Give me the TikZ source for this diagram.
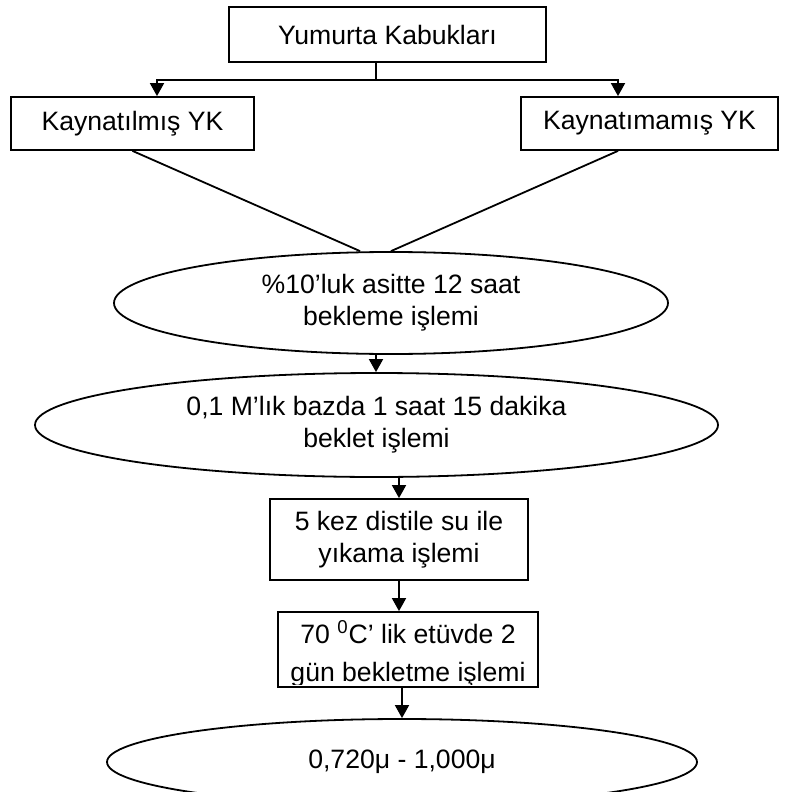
\documentclass[tikz,border=0pt]{standalone}
\usepackage{fontspec}
\setmainfont{Liberation Sans}
\usetikzlibrary{arrows.meta, shapes.geometric, positioning, calc}

\tikzset{
  stage/.style={draw, rectangle, inner sep=0pt, align=center},
  bath/.style={draw, ellipse, inner sep=0pt, align=center},
}

\begin{document}
\begin{tikzpicture}[x=0.5pt, y=-0.5pt, line width=0.9pt,
  font=\fontsize{13.3pt}{16pt}\selectfont,
  >={Triangle[width=7pt,length=6.5pt]}]
\clip (0,0) rectangle (786,792);
\node[stage, minimum width=158.5pt, minimum height=27.5pt] (YK) at (387.5,34.5) {Yumurta Kabukları};
\node[stage, minimum width=121.5pt, minimum height=26.5pt] (KYK) at (132.5,123.5) {Kaynatılmış YK};
\node[stage, minimum width=128.5pt, minimum height=26.5pt] (NYK) at (649.5,123.5) {Kaynatımamış YK};
\node[bath, minimum width=277pt, minimum height=51pt] (asit) at (391,303) {\%10’luk asitte 12 saat\\bekleme işlemi};
\node[bath, minimum width=341.5pt, minimum height=52pt] (baz) at (376.5,425) {0,1 M’lık bazda 1 saat 15 dakika\\beklet işlemi};
\node[stage, minimum width=129pt, minimum height=40.5pt] (yika) at (399,539.5) {5 kez distile su ile\\yıkama işlemi};
\node[stage, minimum width=130pt, minimum height=37.5pt] (etuv) at (408,649.5) {};
% text of the oven box is cut by its lower edge
\begin{scope}
\clip ($(etuv.south west)+(0,-3)$) rectangle (etuv.north east);
\node[align=center, inner sep=0pt] (etuvtxt) at (408,654) {70 \textsuperscript{0}C’ lik etüvde 2\\[3pt]gün bekletme işlemi};
\end{scope}
\node[bath, minimum width=295pt, minimum height=43pt] (sonuc) at (402,762) {0,720μ - 1,000μ};
% split under the top box
\coordinate (split) at (376,80);
\coordinate (sl) at (157,80);
\coordinate (sr) at (618,80);
\draw (YK.south -| split) -- (split);
\draw[->] (split) -| (KYK.north -| sl);
\draw[->] (split) -| (NYK.north -| sr);
\draw (KYK.south) -- ($(asit.north)+(-31,0)$);
\draw (NYK.south -| sr) -- (asit.north);
\draw[->] (asit.south -| split) -- (baz.north -| split);
\draw[->] (yika.north |- baz.south) -- (yika.north);
\draw[->] (yika.south) -- (yika.south |- etuv.north);
\draw[->] (sonuc.north |- etuv.south) -- (sonuc.north);
\end{tikzpicture}
\end{document}
